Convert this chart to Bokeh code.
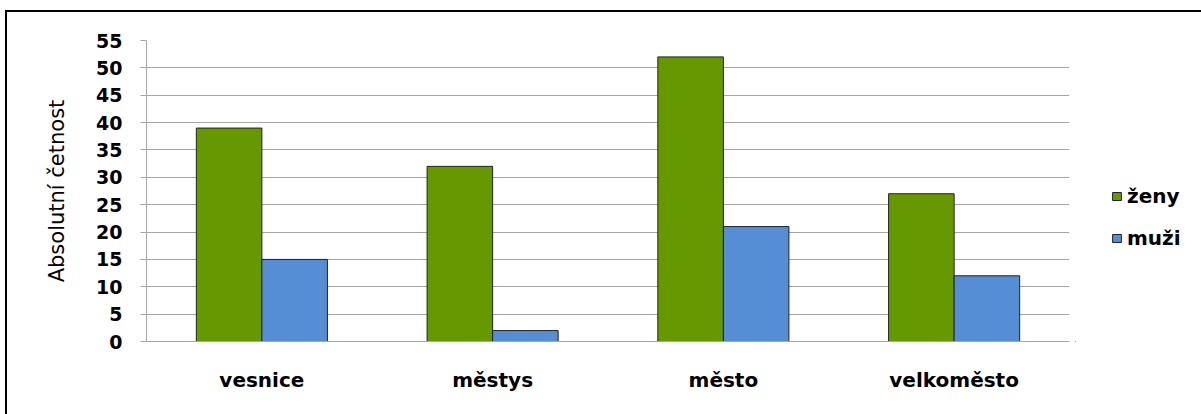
from bokeh.plotting import figure
from bokeh.layouts import row
from bokeh.models import (FactorRange, Range1d, ColumnDataSource, Legend, LegendItem,
                          FixedTicker)
from bokeh.transform import dodge
from bokeh.embed import file_html
from bokeh.resources import INLINE

# Settlement types and counts per sex
categories = ["vesnice", "městys", "město", "velkoměsto"]
zeny = [39, 32, 52, 27]
muzi = [15, 2, 21, 12]
series_names = ["ženy", "muži"]
y_ticks = [0, 5, 10, 15, 20, 25, 30, 35, 40, 45, 50, 55]

GREEN = "#669900"
BLUE = "#558ED5"
EDGE = "#222222"
GRID = "#A6A6A6"
FONT = "DejaVu Sans"

src = ColumnDataSource(dict(cat=categories, zeny=zeny, muzi=muzi))

# ---- main chart -------------------------------------------------------
p = figure(width=1075, height=414, x_range=FactorRange(*categories),
           y_range=Range1d(0, 55), output_backend="svg", toolbar_location=None,
           min_border_left=146, min_border_right=6, min_border_top=40,
           min_border_bottom=73)
p.outline_line_color = None
p.background_fill_color = "white"
# transparent border so the frame rules drawn by CSS show through
p.border_fill_color = None
p.styles = {"box-shadow": "inset 5px 10px 0 0 white, inset 7px 12px 0 0 black",
            "background-color": "white"}

bw = 0.284
p.vbar(x=dodge("cat", -bw / 2, range=p.x_range), top="zeny", width=bw,
       source=src, fill_color=GREEN, line_color=EDGE, line_width=1)
p.vbar(x=dodge("cat", bw / 2, range=p.x_range), top="muzi", width=bw,
       source=src, fill_color=BLUE, line_color=EDGE, line_width=1)

p.xgrid.grid_line_color = None
p.ygrid.grid_line_color = GRID
p.ygrid.grid_line_width = 1

p.yaxis.ticker = FixedTicker(ticks=y_ticks)
p.yaxis.axis_label = "Absolutní četnost"
p.yaxis.axis_label_text_font = FONT
p.yaxis.axis_label_text_font_style = "normal"
p.yaxis.axis_label_text_font_size = "21px"
p.yaxis.axis_label_text_color = "black"
p.yaxis.axis_label_standoff = 24
p.yaxis.major_label_text_font = FONT
p.yaxis.major_label_text_font_style = "bold"
p.yaxis.major_label_text_font_size = "19px"
p.yaxis.major_label_text_color = "black"
p.yaxis.major_label_standoff = 18
p.yaxis.axis_line_color = GRID
p.yaxis.major_tick_line_color = GRID
p.yaxis.major_tick_out = 6
p.yaxis.major_tick_in = 0
p.yaxis.minor_tick_line_color = None

p.xaxis.axis_line_color = GRID
p.xaxis.major_tick_line_color = None
p.xaxis.minor_tick_line_color = None
p.xaxis.major_label_text_font = FONT
p.xaxis.major_label_text_font_style = "bold"
p.xaxis.major_label_text_font_size = "20px"
p.xaxis.major_label_text_color = "black"
p.xaxis.major_label_standoff = 26
p.xaxis.major_tick_out = 0

# ---- legend panel -----------------------------------------------------
lg = figure(width=126, height=414, x_range=Range1d(0, 1), y_range=Range1d(0, 1),
            x_axis_type=None, y_axis_type=None, output_backend="svg",
            toolbar_location=None, min_border=0)
lg.outline_line_color = None
lg.background_fill_color = None
lg.border_fill_color = None
lg.styles = {"box-shadow": "inset 0 10px 0 0 white, inset 0 12px 0 0 black",
             "background-color": "white"}
# swatch renderers placed outside the visible range; only their legend icons show
g1 = lg.vbar(x=[-10], top=[0], width=0.1, fill_color=GREEN, line_color=EDGE, line_width=1)
g2 = lg.vbar(x=[-10], top=[0], width=0.1, fill_color=BLUE, line_color=EDGE, line_width=1)

legend = Legend(items=[LegendItem(label=series_names[0], renderers=[g1]),
                       LegendItem(label=series_names[1], renderers=[g2])],
                location=(36, 91))
legend.glyph_width = 11
legend.glyph_height = 10
legend.label_standoff = 5
legend.spacing = 18
legend.padding = 0
legend.margin = 0
legend.border_line_color = None
legend.background_fill_alpha = 0
legend.label_text_font = FONT
legend.label_text_font_style = "bold"
legend.label_text_font_size = "20px"
legend.label_text_color = "black"
lg.add_layout(legend)

layout = row(p, lg, spacing=0)
open("out.html", "w").write(file_html(layout, INLINE))
